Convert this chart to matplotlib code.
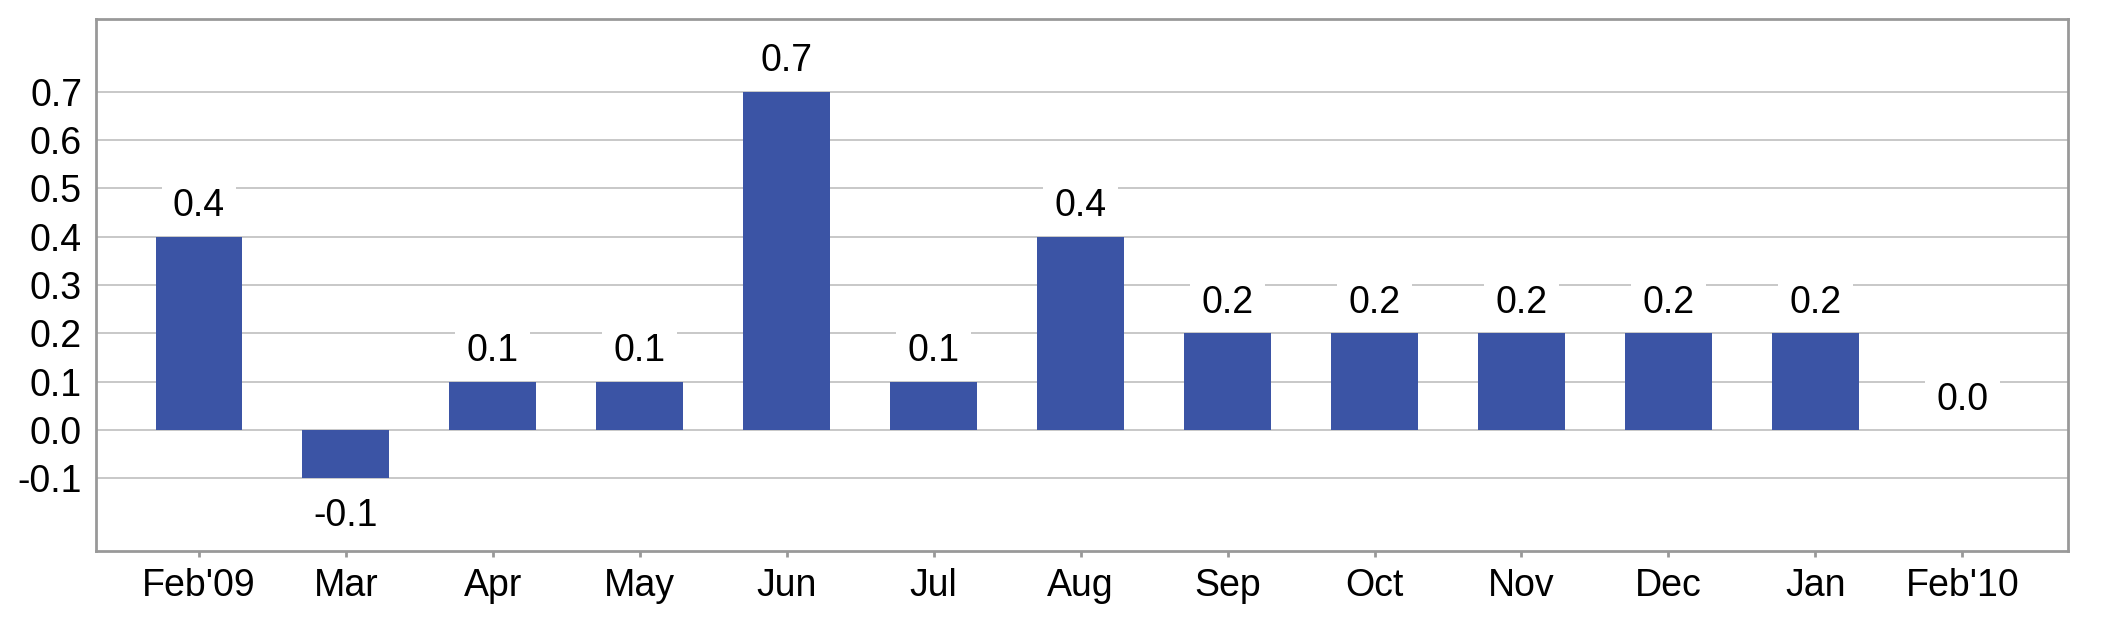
import matplotlib.pyplot as plt

plt.rcParams['font.family'] = ['Liberation Sans', 'DejaVu Sans']

months = ["Feb'09", 'Mar', 'Apr', 'May', 'Jun', 'Jul', 'Aug', 'Sep',
          'Oct', 'Nov', 'Dec', 'Jan', "Feb'10"]
values = [0.4, -0.1, 0.1, 0.1, 0.7, 0.1, 0.4, 0.2, 0.2, 0.2, 0.2, 0.2, 0.0]
yticks = [-0.1, 0.0, 0.1, 0.2, 0.3, 0.4, 0.5, 0.6, 0.7]

fig = plt.figure(figsize=(21.19, 6.2), dpi=100)
ax = fig.add_axes([0.0453, 0.1113, 0.9307, 0.8577])

x = range(len(months))
ax.bar(x, values, width=0.59, color='#3b54a5', zorder=2)

# value labels with white box that cuts the grid lines
for i, v in enumerate(values):
    if v < 0:
        off, va = -14, 'top'
    else:
        off, va = 9, 'bottom'
    ax.annotate(f'{v:.1f}', (i, v), xytext=(0, off), textcoords='offset points',
                ha='center', va=va, fontsize=27, zorder=4,
                bbox=dict(boxstyle='square,pad=0.3', fc='white', ec='none'))

ax.set_xlim(-0.70, 12.72)
ax.set_ylim(-0.25, 0.85)
ax.set_yticks(yticks)
ax.set_yticklabels([f'{t:.1f}' for t in yticks])
ax.set_xticks(list(x))
ax.set_xticklabels(months)

ax.yaxis.grid(True, color='#c8c8c8', linewidth=1.4, zorder=1)
ax.set_axisbelow(True)
for s in ax.spines.values():
    s.set_color('#999999')
    s.set_linewidth(2)

ax.tick_params(axis='y', length=0, pad=10, labelsize=27)
ax.tick_params(axis='x', length=4, width=2, color='#999999', pad=8, labelsize=27)

plt.savefig('out.png', dpi=100)
